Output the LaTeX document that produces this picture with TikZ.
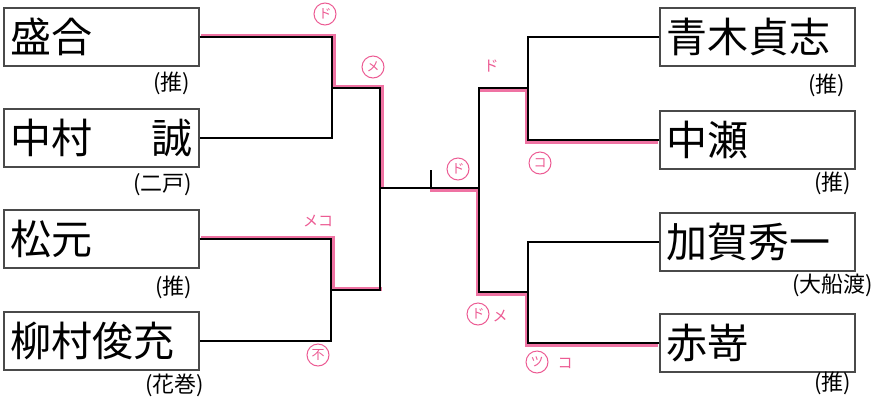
\documentclass[tikz,border=0pt]{standalone}
\usepackage{fontspec}
\setmainfont{Noto Sans CJK JP}
\usepackage{tikz}
\usetikzlibrary{positioning,calc}
\definecolor{brkpink}{HTML}{EC5B93}
\definecolor{brkgray}{HTML}{4A4A4A}
\tikzset{
  namebox/.style={draw=brkgray,line width=1.4pt,minimum width=195pt,minimum height=58pt,text width=183pt,inner xsep=6pt,align=left,font=\fontsize{41}{41}\selectfont},
  affil/.style={font=\fontsize{22}{22}\selectfont,inner sep=0pt,anchor=east},
  winline/.style={brkpink,line width=4pt,opacity=0.85},
  hitcirc/.style={circle,draw=brkpink,line width=1pt,minimum size=22pt,inner sep=0pt,text=brkpink,font=\fontsize{13}{13}\selectfont},
  hittext/.style={text=brkpink,inner sep=0pt,font=\fontsize{15}{15}\selectfont}
}
\begin{document}
\begin{tikzpicture}[x=1pt,y=-1pt,line width=1.2pt]
    \useasboundingbox (0,0) rectangle (877,405);
    \node[namebox] (L1) at (101.5,37) {盛合};
    \node[namebox] (L2) at (101.5,138) {中村\hfill 誠};
    \node[namebox] (L3) at (101.5,239) {松元};
    \node[namebox] (L4) at (101.5,341) {柳村俊充};
    \node[namebox] (R1) at (757.5,37) {青木貞志};
    \node[namebox] (R2) at (757.5,140) {中瀬};
    \node[namebox] (R3) at (757.5,242) {加賀秀一};
    \node[namebox] (R4) at (757.5,343) {赤嵜};
    \node[affil] (aL1) at (191,83) {(推)};
    \node[affil] (aL2) at (193,185) {(二戸)};
    \node[affil] (aL3) at (193,287) {(推)};
    \node[affil] (aL4) at (205,385) {(花巻)};
    \node[affil] (aR1) at (846,85) {(推)};
    \node[affil] (aR2) at (852,183) {(推)};
    \node[affil] (aR3) at (874,285) {(大船渡)};
    \node[affil] (aR4) at (852,383) {(推)};
    \coordinate (jL12) at (332,88);
    \coordinate (jL34) at (331,290);
    \coordinate (sL) at (380,188);
    \coordinate (jR12) at (528,88);
    \coordinate (jR34) at (528,292);
    \coordinate (sR) at (479,188);
    \coordinate (tick) at (431,188);
    \draw[winline,transform canvas={xshift=1.5pt,yshift=1.5pt}] (L1.east) -| (jL12) -| (sL);
    \draw[winline,transform canvas={xshift=1.5pt,yshift=1.5pt}] (L3.east) -| (jL34) -- (jL34 -| sL);
    \draw[winline,transform canvas={xshift=-1.5pt,yshift=-1.5pt}] (R2.west) -| (jR12) -- (jR12 -| sR);
    \draw[winline,transform canvas={xshift=-1.5pt,yshift=-1.5pt}] (R4.west) -| (jR34) -| (sR) -- (tick);
    \draw (L1.east) -| (jL12) |- (L2.east);
    \draw (L3.east) -| (jL34) |- (L4.east);
    \draw (jL12) -| (sL) |- (jL34);
    \draw (R1.west) -| (jR12) |- (R2.west);
    \draw (R3.west) -| (jR34) |- (R4.west);
    \draw (jR12) -| (sR) |- (jR34);
    \draw (sL) -- (sR);
    \draw (tick) -- ++(0,-18);
    \node[hitcirc] (m1) at (325,14) {ド};
    \node[hitcirc] (m2) at (373,67) {メ};
    \node[hittext] (m3) at (318,221) {メコ};
    \node[hitcirc] (m4) at (318,355) {不};
    \node[hittext] (m5) at (491,66) {ド};
    \node[hitcirc] (m6) at (540,163) {コ};
    \node[hitcirc] (m7) at (458,169) {ド};
    \node[hitcirc] (m8) at (478,314) {ド};
    \node[hittext] (m9) at (500,316) {メ};
    \node[hitcirc] (m10) at (537,362) {ツ};
    \node[hittext] (m11) at (565,363) {コ};
\end{tikzpicture}
\end{document}
